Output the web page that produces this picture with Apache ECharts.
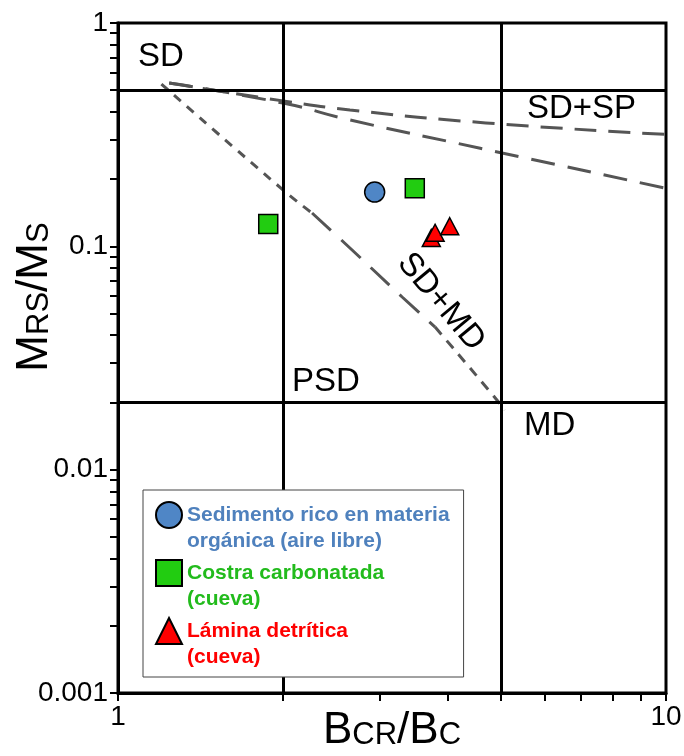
<!DOCTYPE html>
<html>
<head>
<meta charset="utf-8">
<script src="https://cdn.jsdelivr.net/npm/echarts@6/dist/echarts.min.js"></script>
<style>
html, body { margin: 0; padding: 0; background: #fff; }
#chart { width: 684px; height: 756px; }
</style>
</head>
<body>
<div id="chart"></div>
<script>
// data
var sedimento = [[2.94, 0.175]];
var costra = [[3.48, 0.182], [1.88, 0.126]];
var lamina = [[3.73, 0.109], [3.79, 0.115], [4.03, 0.123]];

// SD-SP and SD-MD mixing curves
var sdspUpper = [[1.24, 0.539], [2.0, 0.448], [2.65, 0.408], [4.69, 0.357], [10, 0.317]];
var sdspLower = [[1.24, 0.539], [2.0, 0.438], [2.65, 0.368], [4.58, 0.275], [10, 0.182]];
var sdmdTop = [[1.20, 0.533], [2.0, 0.179], [2.26, 0.141]];
var sdmdMid = [[2.26, 0.141], [2.65, 0.0983], [3.30, 0.0593], [3.79, 0.0435]];
var sdmdBottom = [[3.79, 0.0435], [4.83, 0.0216], [5.08, 0.0185]];

// domain boundaries
var boundX = [2, 5];
var boundY = [0.5, 0.02];

var xTicks = [1, 2, 3, 4, 5, 6, 7, 8, 9, 10];
var xLabels = [1, 10];
var yTicks = [0.001, 0.002, 0.003, 0.004, 0.005, 0.006, 0.007, 0.008, 0.009,
              0.01, 0.02, 0.03, 0.04, 0.05, 0.06, 0.07, 0.08, 0.09,
              0.1, 0.2, 0.3, 0.4, 0.5, 0.6, 0.7, 0.8, 0.9, 1];
var yLabels = [0.001, 0.01, 0.1, 1];

var legendNames = ['Sedimento rico en materia\norgánica (aire libre)', 'Costra carbonatada\n(cueva)', 'Lámina detrítica\n(cueva)'];
var legendStyles = ['b', 'g', 'r'];

var FONT = 'Liberation Sans, Arial, sans-serif';
var chart = echarts.init(document.getElementById('chart'));

var dashColor = '#555555';
function curve(data, dash, width) {
    return {
        type: 'line',
        data: data,
        smooth: true,
        symbol: 'none',
        silent: true,
        z: 3,
        lineStyle: { color: dashColor, width: width, type: dash }
    };
}

var titleRich = {
    b: { fontSize: 44, fontFamily: FONT, color: '#000', verticalAlign: 'bottom', lineHeight: 50 },
    s: { fontSize: 31, fontFamily: FONT, color: '#000', verticalAlign: 'bottom', lineHeight: 50, padding: [0, 0, 2, 0] }
};

function legendToken(color) {
    return { color: color, fontSize: 21, fontWeight: 'bold', fontFamily: FONT, lineHeight: 26, height: 26 };
}

var option = {
    animation: false,
    grid: {
        left: 118, right: 18, top: 23, bottom: 63,
        outerBoundsMode: 'none',
        containLabel: false,
        show: true, borderColor: '#000', borderWidth: 3, backgroundColor: 'transparent'
    },
    xAxis: {
        type: 'log',
        logBase: 10,
        min: 1,
        max: 10,
        name: '{b|B}{s|CR}{b|/B}{s|C}',
        nameLocation: 'middle',
        nameGap: 10,
        nameMoveOverlap: false,
        nameTextStyle: { rich: titleRich },
        axisLine: { show: true, lineStyle: { color: '#000', width: 3 } },
        axisTick: { show: true, customValues: xTicks, length: 8, lineStyle: { color: '#000', width: 2 } },
        axisLabel: { customValues: xLabels, fontSize: 28, fontFamily: FONT, color: '#000', margin: 10 },
        splitLine: { show: false },
        minorTick: { show: false }
    },
    yAxis: {
        type: 'log',
        logBase: 10,
        min: 0.001,
        max: 1,
        name: '{b|M}{s|RS}{b|/M}{s|S}',
        nameLocation: 'middle',
        nameRotate: 90,
        nameGap: 61,
        nameMoveOverlap: false,
        nameTextStyle: { rich: titleRich, padding: [0, 0, 0, 122] },
        axisLine: { show: true, lineStyle: { color: '#000', width: 3 } },
        axisTick: { show: true, customValues: yTicks, length: 8, lineStyle: { color: '#000', width: 2 } },
        axisLabel: { customValues: yLabels, fontSize: 28, fontFamily: FONT, color: '#000', margin: 10 },
        splitLine: { show: false }
    },
    legend: {
        orient: 'vertical',
        left: 143,
        top: 490,
        z: 10,
        data: legendNames,
        formatter: function (name) {
            var i = legendNames.indexOf(name);
            var parts = name.split('\n');
            var k = legendStyles[i];
            return '{e|}\n{' + k + '|' + parts[0] + '}\n{' + k + '|' + parts[1] + '}';
        },
        itemWidth: 26,
        itemHeight: 26,
        itemGap: -20,
        padding: [-14, 14, 7, 12],
        backgroundColor: '#fff',
        borderColor: '#444',
        borderWidth: 1,
        borderRadius: 0,
        selectedMode: false,
        textStyle: {
            fontSize: 21,
            fontWeight: 'bold',
            fontFamily: FONT,
            lineHeight: 26,
            rich: {
                e: { height: 26, lineHeight: 26, fontSize: 19 },
                b: legendToken('#4f81bd'),
                g: legendToken('#22bb1c'),
                r: legendToken('#ff0000')
            }
        }
    },
    graphic: [
        { type: 'text', left: 138, top: 40, style: { text: 'SD', font: '33px ' + FONT, fill: '#000' } },
        { type: 'text', left: 527, top: 92, style: { text: 'SD+SP', font: '33px ' + FONT, fill: '#000' } },
        { type: 'text', left: 292, top: 365, style: { text: 'PSD', font: '33px ' + FONT, fill: '#000' } },
        { type: 'text', left: 524, top: 409, style: { text: 'MD', font: '33px ' + FONT, fill: '#000' } },
        {
            type: 'text', x: 441, y: 302, rotation: -50 * Math.PI / 180,
            style: { text: 'SD+MD', font: '33px ' + FONT, fill: '#000', align: 'center', verticalAlign: 'middle' }
        }
    ],
    series: [
        {
            type: 'line',
            data: [],
            silent: true,
            markLine: {
                symbol: 'none',
                silent: true,
                label: { show: false },
                lineStyle: { color: '#000', width: 3, type: 'solid' },
                data: boundX.map(function (v) { return { xAxis: v }; })
                    .concat(boundY.map(function (v) { return { yAxis: v }; }))
            }
        },
        curve(sdspUpper, [22, 12], 3),
        curve(sdspLower, [24, 13], 3),
        curve(sdmdTop, [9, 8], 3),
        curve(sdmdMid, [26, 14], 3),
        curve(sdmdBottom, [10, 8], 3),
        {
            name: legendNames[0],
            type: 'scatter',
            symbol: 'circle',
            symbolSize: 20,
            z: 5,
            itemStyle: { color: '#4f86c6', borderColor: '#000', borderWidth: 1.5, opacity: 1 },
            data: sedimento
        },
        {
            name: legendNames[1],
            type: 'scatter',
            symbol: 'rect',
            symbolSize: 19,
            z: 5,
            itemStyle: { color: '#22cc11', borderColor: '#000', borderWidth: 1.5, opacity: 1 },
            data: costra
        },
        {
            name: legendNames[2],
            type: 'scatter',
            symbol: 'triangle',
            symbolSize: [18, 17],
            z: 5,
            itemStyle: { color: '#ff0000', borderColor: '#000', borderWidth: 1.5, opacity: 1 },
            data: lamina
        }
    ]
};

chart.setOption(option);
</script>
</body>
</html>
